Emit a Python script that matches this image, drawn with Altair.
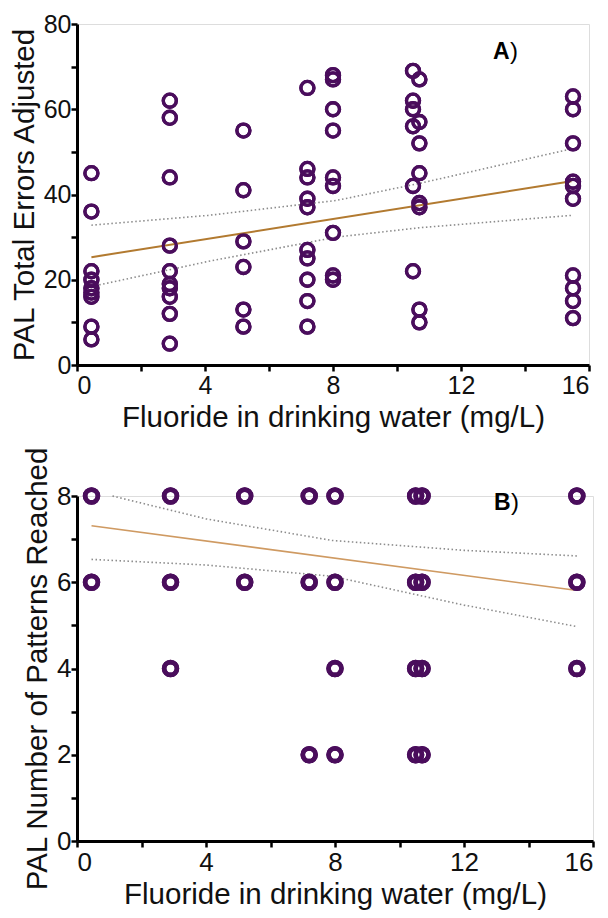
import altair as alt
import pandas as pd

FONT = "Liberation Sans"
PURPLE = "#4a0d5c"
GREY = "#8c8c8c"

# ---------------- Panel A : PAL total errors adjusted ----------------
a_groups_x = [0.45, 2.9, 5.2, 7.2, 8.0, 10.5, 10.7, 15.5]
a_groups_y = [
    [45, 36, 22, 20, 18, 17, 16, 9, 6],
    [62, 58, 44, 28, 22, 19, 18, 16, 12, 5],
    [55, 41, 29, 23, 13, 9],
    [65, 46, 44, 39, 37, 27, 25, 20, 15, 9],
    [68, 67, 60, 55, 44, 42, 31, 21, 20],
    [69, 62, 60, 56, 42, 22],
    [67, 57, 52, 45, 38, 37, 13, 10],
    [63, 60, 52, 43, 42, 39, 21, 18, 15, 11],
]
a_fit_x = [0.45, 15.45]
a_fit_y = [25.3, 43.1]
a_ci_x = [0.45, 4.1, 8.1, 10.7, 15.45]
a_ci_upper = [32.8, 35.1, 38.6, 42.6, 50.7]
a_ci_lower = [18.4, 24.3, 30.0, 32.2, 35.1]

# ---------------- Panel B : PAL number of patterns reached ----------------
b_levels = [8, 6, 4, 2]
b_groups_x = [
    [0.45, 2.9, 5.2, 7.2, 8.0, 10.5, 10.7, 15.5],
    [0.45, 2.9, 5.2, 7.2, 8.0, 10.5, 10.7, 15.5],
    [2.9, 8.0, 10.5, 10.7, 15.5],
    [7.2, 8.0, 10.5, 10.7],
]
b_fit_x = [0.45, 15.4]
b_fit_y = [7.31, 5.82]
b_upper_x = [1.1, 4.0, 7.9, 12.0, 15.5]
b_upper_y = [8.0, 7.47, 6.97, 6.74, 6.61]
b_lower_x = [0.45, 4.0, 7.9, 12.0, 15.45]
b_lower_y = [6.53, 6.40, 6.14, 5.47, 4.98]

x_ticks = [0, 2, 4, 6, 8, 10, 12, 14, 16]
a_y_ticks = [0, 10, 20, 30, 40, 50, 60, 70, 80]
b_y_ticks = [0, 1, 2, 3, 4, 5, 6, 7, 8]

a_df = pd.DataFrame(
    [(x, y) for x, ys in zip(a_groups_x, a_groups_y) for y in ys],
    columns=["x", "y"],
)
b_df = pd.DataFrame(
    [(x, lvl) for lvl, xs in zip(b_levels, b_groups_x) for x in xs],
    columns=["x", "y"],
)


def axis(title, values, label_every, lab_size, title_size, title_pad, lab_pad):
    return alt.Axis(
        title=title,
        values=values,
        labelExpr=f"datum.value % {label_every} == 0 ? datum.label : ''",
        grid=False,
        domainColor="black",
        domainWidth=3,
        tickColor="black",
        tickWidth=2.5,
        tickSize=6,
        labelFont=FONT,
        labelFontSize=lab_size,
        labelColor="#111",
        labelPadding=lab_pad,
        titleFont=FONT,
        titleFontSize=title_size,
        titleFontWeight="normal",
        titleColor="#111",
        titlePadding=title_pad,
    )


letter_pos = {"A": (416, 28), "B": (417, 7)}


def panel(df, ymax, yticks, ylab_every, ytitle, fit, upper, lower, letter,
          width, height, lab_size, title_size, pt_size, pt_stroke, fit_color, fit_w):
    xs = alt.X("x:Q", scale=alt.Scale(domain=[0, 16], nice=False),
               axis=axis("Fluoride in drinking water (mg/L)", x_ticks, 4,
                         lab_size, title_size, 5, 2))
    ys = alt.Y("y:Q", scale=alt.Scale(domain=[0, ymax], nice=False),
               axis=axis(ytitle, yticks, ylab_every, lab_size, title_size, 4, 0))

    def line(xv, yv, color, w, dash=None):
        kw = dict(color=color, strokeWidth=w)
        if dash:
            kw["strokeDash"] = dash
        return alt.Chart(pd.DataFrame({"x": xv, "y": yv})).mark_line(**kw).encode(
            x=alt.X("x:Q"), y=alt.Y("y:Q"))

    up = line(upper[0], upper[1], GREY, 1.6, [1.5, 2.5])
    lo = line(lower[0], lower[1], GREY, 1.6, [1.5, 2.5])
    ft = line(fit[0], fit[1], fit_color, fit_w)
    pts = alt.Chart(df).mark_point(
        shape="circle", filled=False, color=PURPLE, size=pt_size,
        strokeWidth=pt_stroke, opacity=1,
    ).encode(x=xs, y=ys)
    t1 = alt.Chart(pd.DataFrame({"t": [letter]})).mark_text(
        font=FONT, fontSize=23, fontWeight="bold", align="left",
        baseline="middle", color="black",
    ).encode(x=alt.value(letter_pos[letter][0]), y=alt.value(letter_pos[letter][1]),
             text="t:N")
    t2 = alt.Chart(pd.DataFrame({"t": [")"]})).mark_text(
        font=FONT, fontSize=24, align="left", baseline="middle", color="black",
    ).encode(x=alt.value(letter_pos[letter][0] + 17), y=alt.value(letter_pos[letter][1]),
             text="t:N")
    return alt.layer(pts, up, lo, ft, pts, t1, t2).properties(width=width, height=height)


chart_a = panel(a_df, 80, a_y_ticks, 20, "PAL Total Errors Adjusted",
                (a_fit_x, a_fit_y), (a_ci_x, a_ci_upper), (a_ci_x, a_ci_lower), "A",
                512, 341, 25, 29.5, 170, 3.3, "#b27a30", 2.0)
chart_b = panel(b_df, 8, b_y_ticks, 2, "PAL Number of Patterns Reached",
                (b_fit_x, b_fit_y), (b_upper_x, b_upper_y), (b_lower_x, b_lower_y), "B",
                516, 345, 26, 29.5, 165, 4.6, "#cf9a62", 1.6)

chart = alt.vconcat(chart_a, chart_b, spacing=14).properties(
    padding={"left": 0, "top": 3, "right": 2, "bottom": 2}
).configure_view(stroke=None).configure(background="white")

chart.save("out.html", embed_options={"renderer": "svg", "actions": False})
